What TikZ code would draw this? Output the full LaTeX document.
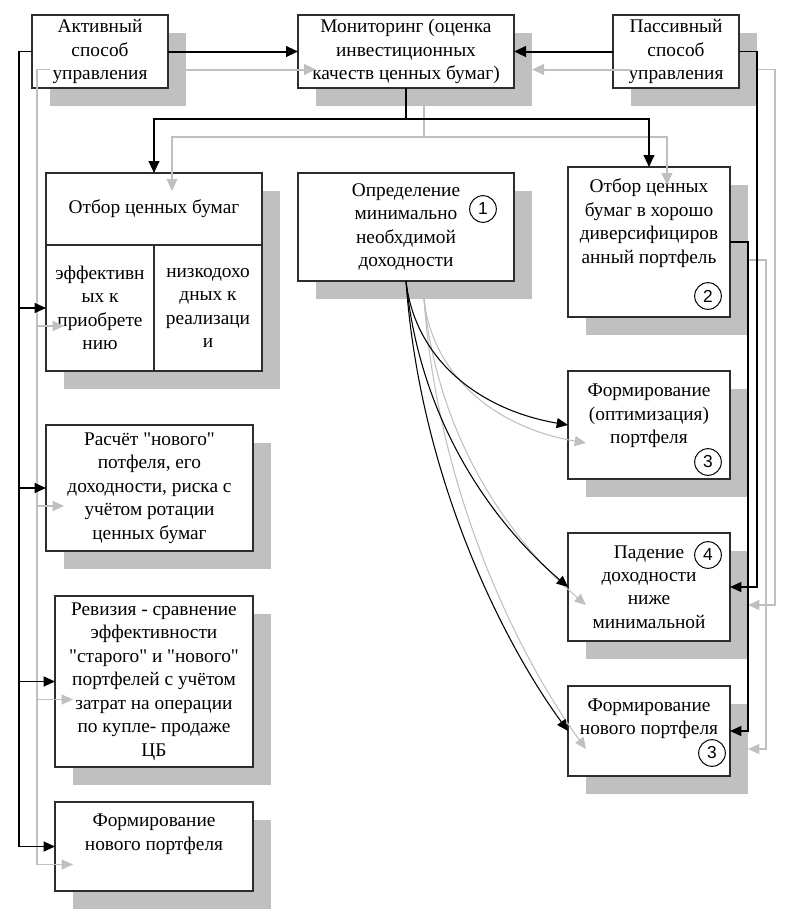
\documentclass[tikz,border=0pt]{standalone}
\usepackage{fontspec}
\setmainfont{Liberation Serif}[Ligatures=TeXOff]
\newfontfamily\numfont{Liberation Sans}
\usetikzlibrary{arrows.meta,shadows}
\definecolor{shd}{RGB}{192,192,192}
\definecolor{bord}{RGB}{45,45,45}
\newcommand\txt{\fontsize{14.5}{17.6}\selectfont}
\newcommand\numtxt{\numfont\fontsize{13}{13}\selectfont}
\begin{document}
\begin{tikzpicture}[x=0.75pt,y=-0.75pt,
  box/.style={draw=bord, fill=white, line width=0.9pt, outer sep=0pt, inner sep=1pt, align=center, font=\txt,
    drop shadow={shadow xshift=13.5pt, shadow yshift=-13.5pt, fill=shd, opacity=1}},
  cell/.style={draw=bord, fill=white, line width=0.9pt, outer sep=0pt, inner sep=1pt, align=center, font=\txt},
  lbl/.style={align=center, font=\txt, inner sep=0pt},
  num/.style={circle, draw=black, fill=white, line width=0.75pt, minimum size=20pt, inner sep=0pt, font=\numtxt},
  thk/.style={line width=1.5pt, -{Triangle[length=9pt,width=8pt]}},
  thn/.style={line width=0.8pt, -{Triangle[length=8.5pt,width=7.5pt]}},
]
\useasboundingbox (0,0) rectangle (792,922);

% top row
\node[box, minimum width=102pt, minimum height=54.75pt] (act) at (100,51.5) {Активный\\способ\\управления};
\node[box, minimum width=162pt, minimum height=54.75pt] (mon) at (406,51.5) {Мониторинг (оценка\\инвестиционных\\качеств ценных бумаг)};
\node[box, minimum width=94.5pt, minimum height=54.75pt] (pas) at (676,51.5) {Пассивный\\способ\\управления};

% selection box (left)
\node[box, minimum width=162pt, minimum height=148.5pt] (otb) at (154,272) {};
\node[cell, minimum width=162pt, minimum height=54pt] (otbt) at (154,209) {Отбор ценных бумаг};
\node[cell, minimum width=81pt, minimum height=94.5pt] (eff) at (100,308) {эффективн\\ых к\\приобрете\\нию};
\node[cell, minimum width=81pt, minimum height=94.5pt] (low) at (208,308) {низкодохо\\дных к\\реализаци\\и};

% left column
\node[box, minimum width=155.25pt, minimum height=94.5pt] (ras) at (149.5,488) {Расчёт "нового"\\потфеля, его\\доходности, риска с\\учётом ротации\\ценных бумаг};
\node[box, minimum width=148.5pt, minimum height=128.25pt] (rev) at (154,681.5) {Ревизия - сравнение\\эффективности\\"старого" и "нового"\\портфелей с учётом\\затрат на операции\\по купле- продаже\\ЦБ};
\node[box, minimum width=148.5pt, minimum height=66.75pt] (bot) at (154,846.5) {};
\node[lbl] (bott) at (154,834) {Формирование\\нового портфеля};

% middle
\node[box, minimum width=162pt, minimum height=81pt] (mid) at (406,227) {Определение\\минимально\\необхдимой\\доходности};

% right column
\node[box, minimum width=121.5pt, minimum height=112.5pt] (b2) at (649,242) {};
\node[lbl] (b2t) at (649,223) {Отбор ценных\\бумаг в хорошо\\диверсифициров\\анный портфель};
\node[box, minimum width=121.5pt, minimum height=81pt] (b3) at (649,425) {};
\node[lbl] (b3t) at (649,416) {Формирование\\(оптимизация)\\портфеля};
\node[box, minimum width=121.5pt, minimum height=81pt] (b4) at (649,587) {Падение\\доходности\\ниже\\минимальной};
\node[box, minimum width=121.5pt, minimum height=67.5pt] (b5) at (649,731) {};
\node[lbl] (b5t) at (649,718.5) {Формирование\\нового портфеля};

% numbers
\node[num] (c1) at (483,209) {1};
\node[num] (c2) at (708,296) {2};
\node[num] (c3) at (708,462) {3};
\node[num] (c4) at (708,555) {4};
\node[num] (c5) at (712,753) {3};

\newcommand\wires{%
  \draw[thk] (act.east) -- (mon.west);
  \draw[thk] (pas.west) -- (mon.east);
  \draw[thk] (mon.south) -- ++(0,31) -| (otb.north);
  \draw[thk] (mon.south) -- ++(0,31) -| (b2.north);
  \draw[thn] (act.west) -- ++(-13,0) |- (eff.west);
  \draw[thn] (act.west) -- ++(-13,0) |- (ras.west);
  \draw[thn] (act.west) -- ++(-13,0) |- (rev.west);
  \draw[thn] (act.west) -- ++(-13,0) |- (bot.west);
  \draw[thn] (pas.east) -- ++(18,0) |- (b4.east);
  \draw[thn] (b2.east) -- ++(18,0) |- (b5.east);
  \draw[thn] (mid.south) .. controls (415,360) and (480,410) .. (b3.west);
  \draw[thn] (mid.south) .. controls (420,420) and (490,520) .. (b4.west);
  \draw[thn] (mid.south) .. controls (420,480) and (505,645) .. (b5.west);
}
\begin{scope}[color=shd, transform canvas={xshift=13.5pt,yshift=-13.5pt}]
  \wires
\end{scope}
\begin{scope}[color=black]
  \wires
\end{scope}
\end{tikzpicture}
\end{document}
